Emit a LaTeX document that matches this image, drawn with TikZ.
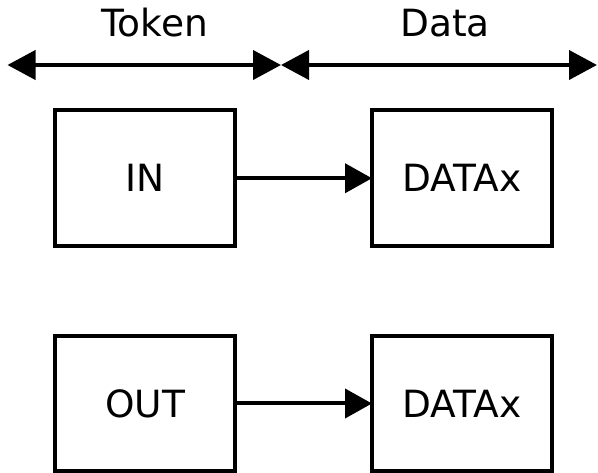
\documentclass[tikz,border=0pt]{standalone}
\usepackage{fontspec}
\setmainfont{DejaVu Sans}
\usetikzlibrary{arrows.meta}
\begin{document}
\begin{tikzpicture}[x=1pt,y=-1pt,
  box/.style={draw=black,line width=4pt,minimum width=180pt,minimum height=135.5pt,inner sep=0pt,outer sep=0pt,font=\fontsize{37.5}{40}\selectfont},
  lbl/.style={inner sep=0pt,anchor=base,font=\fontsize{37.5}{40}\selectfont},
  conn/.style={line width=4pt,-{Triangle[length=27pt,width=29pt]}},
  dconn/.style={line width=4pt,{Triangle[length=28pt,width=29pt]}-{Triangle[length=28pt,width=29pt]}}]
\useasboundingbox (0,0) rectangle (598,473);
\coordinate (L) at (7.5,65);
\coordinate (M) at (281,65);
\coordinate (R) at (597,65);
\draw[dconn] (L) -- (M);
\draw[dconn] (M) -- (R);
\node[lbl] (token) at (154.5,36.5) {Token};
\node[lbl] (data) at (445,36.5) {Data};
\node[box] (in) at (145,178.25) {IN};
\node[box] (dx1) at (462,178.25) {DATAx};
\node[box] (out) at (145,403.5) {OUT};
\node[box] (dx2) at (462,403.5) {DATAx};
\draw[conn] (in) -- (dx1);
\draw[conn] (out) -- (dx2);
\end{tikzpicture}
\end{document}
